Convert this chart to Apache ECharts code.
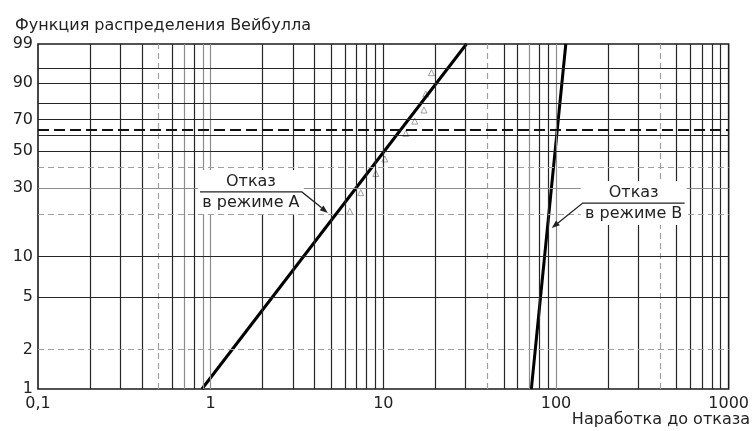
<!DOCTYPE html>
<html>
<head>
<meta charset="utf-8">
<script src="https://cdn.jsdelivr.net/npm/echarts@6/dist/echarts.min.js"></script>
<style>
  html, body { margin: 0; padding: 0; background: #fff; }
  #chart { width: 752px; height: 431px; }
</style>
</head>
<body>
<div id="chart"></div>
<script>
// Вероятностная бумага Вейбулла: по оси Y откладывается ln(-ln(1 - F))
var yTicks = [1, 2, 5, 10, 30, 50, 70, 90, 99];
var xTicks = [0.1, 1, 10, 100, 1000];

// линии сетки
var hGridDark = [5, 10, 50, 60, 70, 80, 90, 95];
var hGridGray = [30];
var hGridDash = [2, 20, 40];
var vGridDark = [0.2, 0.3, 0.4, 0.6, 0.8, 2, 3, 4, 5, 6, 7, 8, 9, 10, 20, 30, 50, 60, 80, 90, 200, 300, 500, 600, 700, 800, 900];
var vGridGray = [0.7, 0.9, 1, 70, 100];
var vGridDash = [0.5, 40, 400];
var meanLevel = 63.2;

// прямые для двух видов отказов [наработка, %]
var lineA = [[0.89, 1], [30.3, 99]];
var lineB = [[72, 1], [114, 99]];
// опытные точки (режим А)
var pointsA = [[6.4, 21], [7.4, 28], [9.05, 37], [10.2, 45], [13.5, 61], [15.2, 69], [17.2, 76], [17.6, 85], [19.0, 93.7]];

// выноски: линия [наработка, %] от конца полки до острия стрелки
var notes = [
  { top: 'Отказ', bottom: 'в режиме А', path: [[0.867, 28.3], [3.375, 28.3], [4.77, 20.5]] },
  { top: 'Отказ', bottom: 'в режиме В', path: [[556, 23.9], [142.8, 23.9], [94.5, 16.1]] }
];

function wb(p) { return Math.log(-Math.log(1 - p / 100)); }
function pct(v) { return 100 * (1 - Math.exp(-Math.exp(v))); }
function toXY(d) { return [d[0], wb(d[1])]; }

var font = 'DejaVu Sans';
var dark = { color: '#262626', width: 1.2, type: 'solid' };
var gray = { color: '#8c8c8c', width: 1.2, type: 'solid' };
var dash = { color: '#a0a0a0', width: 1.2, type: [6, 4] };

function vLines(list, style) { return list.map(function (v) { return { xAxis: v, lineStyle: style }; }); }
function hLines(list, style) { return list.map(function (p) { return { yAxis: wb(p), lineStyle: style }; }); }

var gridMarks = [].concat(
  vLines(vGridDark, dark), vLines(vGridGray, gray), vLines(vGridDash, dash),
  hLines(hGridDark, dark), hLines(hGridGray, gray), hLines(hGridDash, dash)
);
gridMarks.push({ yAxis: wb(meanLevel), lineStyle: { color: '#111', width: 2, type: [11, 5] } });

var chart = echarts.init(document.getElementById('chart'));

var option = {
  animation: false,
  title: {
    text: 'Функция распределения Вейбулла',
    left: 10,
    top: 13,
    textStyle: { fontFamily: font, fontSize: 16, fontWeight: 'normal', color: '#222' }
  },
  grid: {
    left: 38, right: 23, top: 44, bottom: 42,
    show: true, borderColor: '#1a1a1a', borderWidth: 1.6, backgroundColor: '#fff'
  },
  xAxis: {
    type: 'log',
    logBase: 10,
    min: xTicks[0],
    max: xTicks[xTicks.length - 1],
    axisLine: { show: false },
    axisTick: { show: false },
    splitLine: { show: false },
    axisLabel: {
      margin: 7,
      color: '#222',
      fontFamily: font,
      fontSize: 16,
      formatter: function (v) { return String(+v.toPrecision(6)).replace('.', ','); }
    }
  },
  yAxis: {
    type: 'value',
    min: wb(yTicks[0]),
    max: wb(yTicks[yTicks.length - 1]),
    axisLine: { show: false },
    axisTick: { show: false },
    splitLine: { show: false },
    axisLabel: {
      customValues: yTicks.map(wb),
      margin: 5,
      color: '#222',
      fontFamily: font,
      fontSize: 16,
      formatter: function (v) { return String(Math.round(pct(v))); }
    }
  },
  series: [
    {
      type: 'line',
      data: [],
      z: 1,
      silent: true,
      markLine: { silent: true, symbol: ['none', 'none'], label: { show: false }, data: gridMarks }
    },
    {
      type: 'scatter',
      data: pointsA.map(toXY),
      symbol: 'triangle',
      symbolSize: 6,
      z: 3,
      itemStyle: { color: 'rgba(0,0,0,0)', borderColor: '#8a8a8a', borderWidth: 1 }
    },
    {
      type: 'line',
      data: lineA.map(toXY),
      symbol: 'none',
      z: 4,
      lineStyle: { color: '#000', width: 3 }
    },
    {
      type: 'line',
      data: lineB.map(toXY),
      symbol: 'none',
      z: 4,
      lineStyle: { color: '#000', width: 3 }
    }
  ]
};

chart.setOption(option);

// выноски с подписями
var graphics = [];
notes.forEach(function (n) {
  var pts = n.path.map(function (d) { return chart.convertToPixel({ gridIndex: 0 }, toXY(d)); });
  var x0 = Math.min(pts[0][0], pts[1][0]), x1 = Math.max(pts[0][0], pts[1][0]);
  var cx = (x0 + x1) / 2, y = pts[0][1];
  graphics.push({
    type: 'rect', z: 100,
    shape: { x: x0 - 2, y: y - 22, width: x1 - x0 + 4, height: 44 },
    style: { fill: '#fff' }
  });
  graphics.push({
    type: 'text', z: 101, x: cx, y: y - 2,
    style: { text: n.top, fill: '#222', font: '16px "DejaVu Sans"', align: 'center', verticalAlign: 'bottom' }
  });
  graphics.push({
    type: 'text', z: 101, x: cx, y: y + 3,
    style: { text: n.bottom, fill: '#222', font: '16px "DejaVu Sans"', align: 'center', verticalAlign: 'top' }
  });
  var tip = pts[2], from = pts[1];
  var dx = tip[0] - from[0], dy = tip[1] - from[1], len = Math.sqrt(dx * dx + dy * dy);
  var ux = dx / len, uy = dy / len, ah = 8, aw = 3;
  var bx = tip[0] - ux * ah, by = tip[1] - uy * ah;
  graphics.push({
    type: 'polyline', z: 102,
    shape: { points: [pts[0], pts[1], [bx, by]] },
    style: { stroke: '#222', lineWidth: 1.3, fill: null }
  });
  graphics.push({
    type: 'polygon', z: 102,
    shape: { points: [tip, [bx - uy * aw, by + ux * aw], [bx + uy * aw, by - ux * aw]] },
    style: { fill: '#222' }
  });
});
graphics.push({
  type: 'text', z: 101, right: 2, top: 412,
  style: { text: 'Наработка до отказа', fill: '#222', font: '16px "DejaVu Sans"' }
});
chart.setOption({ graphic: graphics });

window.addEventListener('resize', function () { chart.resize(); });
</script>
</body>
</html>
